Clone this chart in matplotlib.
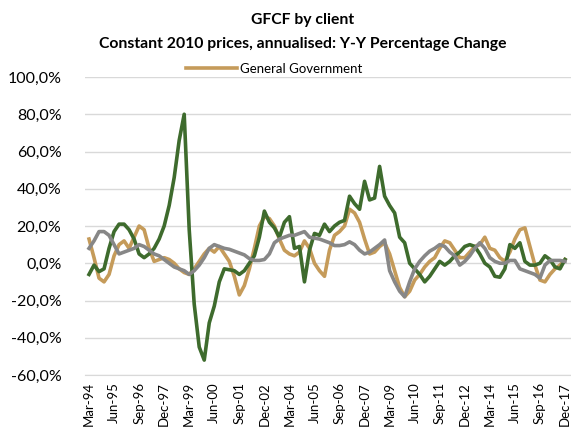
import matplotlib
matplotlib.use("Agg")
import matplotlib.pyplot as plt
import numpy as np

plt.rcParams['font.family'] = ['Lato', 'DejaVu Sans']

# quarterly, Mar-94 .. Dec-17
quarters = []
for yr in range(1994, 2018):
    for m in ['Mar', 'Jun', 'Sep', 'Dec']:
        quarters.append('%s-%02d' % (m, yr % 100))

general_gov = [13, 3, -8, -10, -6, 4, 10, 12, 8, 14,
               20, 18, 8, 1, 2, 3, 2, 0, -3, -5,
               -6, -3, 1, 5, 8, 6, 9, 5, 1, -7,
               -17, -12, -3, 8, 20, 25, 24, 20, 13, 7,
               5, 4, 6, 12, 8, 0, -4, -7, 7, 15,
               17, 20, 29, 27, 22, 13, 5, 6, 9, 11,
               5, -4, -13, -18, -15, -9, -6, -2, 1, 3,
               8, 12, 11, 7, 3, 3, 6, 9, 10, 14,
               8, 7, 3, 1, 6, 13, 18, 19, 9, -1,
               -9, -10, -6, -3, -1, 2]

green_series = [-6, -1, -4.5, -3, 8, 17, 21, 21, 18, 13,
                5, 3, 5, 8, 13, 20, 31, 46, 66, 80,
                18, -22, -45, -52, -32, -23, -10, -3, -3.5, -4,
                -6, -4, 0, 4, 14, 28, 22, 19, 14, 22,
                25, 8, 9, -10, 7, 16, 15, 21, 17, 20,
                22, 23, 36, 32, 29, 44, 34, 35, 52, 36,
                31, 27, 14, 11, 0, -3, -6, -10, -7, -3,
                1, -1, 1, 4, 6, 9, 10, 9, 5, 0,
                -2, -7, -7.5, -3, 10, 8, 11, 1, -1, -1,
                0, 4, 2, -2, -3, 2]

grey_series = [8, 12, 17, 17, 15, 10, 5, 6, 7, 8,
               10, 9, 7, 5, 4, 2, 0, -2, -3, -4,
               -6, -4, -1, 3, 8, 10, 9, 8, 7.5, 6.5,
               5.5, 4.5, 2.5, 1.5, 1.5, 2, 5, 11, 13, 14,
               15, 15, 16, 17, 14, 13.5, 13, 12, 11, 9.5,
               9.5, 10, 11.5, 10, 7, 5, 6, 8, 10, 12.5,
               -4, -10, -15, -18, -10, -3, 1, 4, 6.5, 8,
               10, 9, 6, 4, -1, 1, 4, 8, 11, 8,
               3, 1, 0, 0, 1.5, 1.5, -3, -4, -5, -6,
               -8, -1, 1.5, 1.5, 1.5, 1]

yticks = [-60, -40, -20, 0, 20, 40, 60, 80, 100]

fig = plt.figure(figsize=(5.71, 4.33), dpi=100)
ax = fig.add_axes([85/571., 1-375/433., 1-85/571., (375-77)/433.])

x = np.arange(len(quarters))
ax.plot(x, general_gov, color='#c59b5a', lw=2.6, label='General Government', solid_joinstyle='round')
ax.plot(x, green_series, color='#3e6b2d', lw=2.6, solid_joinstyle='round')
ax.plot(x, grey_series, color='#878787', lw=2.6, solid_joinstyle='round')

ax.set_ylim(-60, 100)
ax.set_yticks(yticks)
ax.set_yticklabels([('%.1f%%' % v).replace('.', ',') for v in yticks], fontsize=11.5)
ax.yaxis.grid(True, color='#d9d9d9', lw=1)
ax.set_axisbelow(True)

ax.set_xlim(-0.8, 96.2)
ax.set_xticks(x[::5])
ax.set_xticklabels(quarters[::5], rotation=90, fontsize=9.5)

for s in ['top', 'right', 'left']:
    ax.spines[s].set_visible(False)
ax.spines['bottom'].set_color('#d9d9d9')
ax.tick_params(axis='both', length=0)
ax.tick_params(axis='y', pad=17)
ax.tick_params(axis='x', pad=5)

fig.text(0.53, 1-20/433., 'GFCF by client', ha='center', va='center',
         fontsize=11.3, fontweight='bold')
fig.text(0.53, 1-44/433., 'Constant 2010 prices, annualised: Y-Y Percentage Change',
         ha='center', va='center', fontsize=11.3, fontweight='bold')

ax.legend(loc='center left', bbox_to_anchor=(186/571., 1-69/433.),
          bbox_transform=fig.transFigure, frameon=False, fontsize=9.5,
          handlelength=3.9, handletextpad=0.2, borderpad=0, borderaxespad=0)

fig.savefig('out.png', dpi=100)
